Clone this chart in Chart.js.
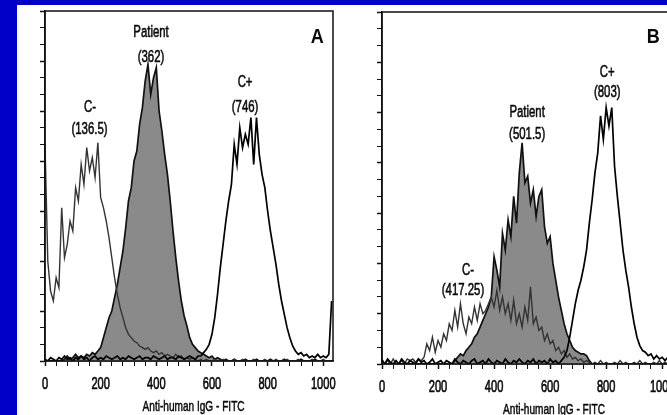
<!DOCTYPE html>
<html lang="en">
<head>
<meta charset="UTF-8">
<title>Anti-human IgG - FITC</title>
<script src="https://cdn.jsdelivr.net/npm/chart.js"></script>
<style>
    html,body{margin:0;padding:0;}
    body{width:667px;height:415px;background:#0000c8;overflow:hidden;position:relative;}
    #panel{position:absolute;left:17px;top:5px;width:650px;height:410px;background:#fff;}
    .box{position:absolute;top:5px;height:410px;}
    #boxA{left:17px;width:330px;}
    #boxB{left:347px;width:335px;}
</style>
</head>
<body>
<div id="panel"></div>
<div class="box" id="boxA"><canvas id="chartA"></canvas></div>
<div class="box" id="boxB"><canvas id="chartB"></canvas></div>
<script>
// channel bins (10 channels each)
const channels = [
    0,10,20,30,40,50,60,70,80,90,
    100,110,120,130,140,150,160,170,180,190,
    200,210,220,230,240,250,260,270,280,290,
    300,310,320,330,340,350,360,370,380,390,
    400,410,420,430,440,450,460,470,480,490,
    500,510,520,530,540,550,560,570,580,590,
    600,610,620,630,640,650,660,670,680,690,
    700,710,720,730,740,750,760,770,780,790,
    800,810,820,830,840,850,860,870,880,890,
    900,910,920,930,940,950,960,970,980,990,
    1000,1010,1020,1030
];
const xTickLabels = [0,200,400,600,800,1000];
const xMinorTicks = [0,40,80,120,160,200,240,280,320,360,400,440,480,520,560,600,640,680,720,760,800,840,880,920,960,1000];
const xTitle = "Anti-human IgG - FITC";

// panel A
const cMinusA = [
    130,60,42,36,50,44,92,62,70,84,
    78,104,96,118,106,128,114,122,110,131,
    98,92,84,74,62,50,40,32,26,20,
    16,14,12,11,9,8,7,8,6,5,
    6,4,5,3,4,3,2,4,2,3,
    1,2,1,2,1,0,1,0,1,0,
    0,1,0,0,1,0,0,0,1,0,
    0,1,0,0,0,1,0,0,0,1,
    0,0,0,1,0,0,0,1,0,0,
    0,1,0,0,0,0,1,0,0,0,
    1,0,0,0
];
const patientA = [
    0,0,0,0,0,0,0,1,3,1,
    2,4,2,3,2,4,3,5,4,6,
    8,14,20,26,30,38,46,56,66,80,
    96,104,120,126,142,152,168,178,160,170,
    176,150,138,124,112,96,78,62,48,36,
    27,21,14,10,8,6,5,4,3,2,
    3,1,2,1,0,1,0,0,1,0,
    0,0,1,0,0,0,1,0,0,0,
    0,1,0,0,0,0,1,0,0,0,
    0,0,1,0,0,0,0,1,0,0,
    0,0,0,0
];
const cPlusA = [
    1,0,2,1,0,2,1,3,1,2,
    0,2,1,3,1,2,0,2,3,1,
    2,1,3,2,1,2,3,1,2,1,
    3,2,1,2,3,1,2,2,1,3,
    2,1,2,3,1,2,2,1,3,2,
    1,2,3,2,1,3,3,5,7,10,
    16,26,40,56,70,84,96,106,130,118,
    140,128,136,130,146,118,146,124,112,104,
    90,78,68,58,46,36,28,20,14,9,
    6,4,5,3,4,2,3,2,4,2,
    3,2,4,36
];

// panel B
const cMinusB = [
    3,0,2,0,3,0,0,2,0,3,
    2,3,1,3,2,4,12,8,16,7,
    14,10,18,14,24,20,32,22,36,24,
    18,28,24,34,26,36,30,32,36,40,
    34,44,32,40,30,36,26,38,24,30,
    22,34,26,46,24,28,20,22,14,18,
    12,14,8,10,6,8,4,6,3,4,
    2,3,1,2,1,0,1,0,2,0,
    1,0,0,1,0,2,0,1,0,0,
    1,0,2,0,1,0,0,1,0,2,
    0,1,0,0
];
const patientB = [
    0,0,0,0,0,0,0,0,0,0,
    0,0,0,0,0,0,0,0,0,0,
    0,0,0,0,0,0,2,4,6,5,
    8,10,12,16,18,22,26,30,34,40,
    64,56,46,78,68,86,76,100,84,114,
    132,108,112,96,104,88,100,104,82,72,
    76,60,50,40,32,24,18,14,10,8,
    7,6,6,5,2,0,0,0,0,0,
    0,0,0,0,0,0,0,0,0,0,
    0,0,0,0,0,0,0,0,0,0,
    0,0,0,0
];
const cPlusB = [
    2,0,3,1,0,2,0,3,1,0,
    2,1,0,3,1,2,0,1,3,0,
    1,2,0,2,1,0,3,1,0,2,
    1,0,2,3,0,1,2,0,3,1,
    0,2,1,0,3,1,0,2,1,3,
    1,0,2,1,3,0,2,1,2,0,
    3,1,2,0,2,4,8,16,26,36,
    44,50,58,68,84,98,114,126,148,134,
    153,142,153,118,100,84,68,56,46,34,
    24,16,11,8,7,5,6,3,5,3,
    4,2,4,3
];

// text labels, anchored in data units (channel, count)
const notesA = [
    {text:"C-", ch:162, val:152},
    {text:"(136.5)", ch:160, val:139},
    {text:"Patient", ch:381, val:197},
    {text:"(362)", ch:381, val:182},
    {text:"C+", ch:719, val:167},
    {text:"(746)", ch:719, val:152},
    {text:"A", ch:978, val:194, bold:true}
];
const notesB = [
    {text:"Patient", ch:518, val:150},
    {text:"(501.5)", ch:518, val:137},
    {text:"C+", ch:804, val:174},
    {text:"(803)", ch:804, val:162},
    {text:"C-", ch:307, val:56},
    {text:"(417.25)", ch:289, val:44},
    {text:"B", ch:968, val:195, bold:true}
];

const FONT = '"Liberation Sans", Arial, sans-serif';

// arial-narrow look: draw squeezed text, slightly heavier
function narrowText(ctx, text, x, y, font, sx, heavy){
    ctx.save();
    ctx.translate(x, y);
    ctx.scale(sx, 1);
    ctx.font = font;
    ctx.fillText(text, 0, 0);
    if (heavy) {
        ctx.lineWidth = heavy;
        ctx.strokeText(text, 0, 0);
    }
    ctx.restore();
}

function overlay(notes, titleCh){
    return {
        id: "overlay",
        afterDatasetsDraw(chart){
            const {ctx, chartArea:a, scales:{x, y}} = chart;
            ctx.save();
            ctx.strokeStyle = "#111";
            ctx.lineWidth = 1.5;
            ctx.strokeRect(a.left, a.top, a.right - a.left, a.bottom - a.top);
            ctx.fillStyle = "#0a0a0a";
            ctx.strokeStyle = "#0a0a0a";
            ctx.textAlign = "center";
            ctx.textBaseline = "middle";
            notes.forEach(n => {
                if (n.bold) narrowText(ctx, n.text, x.getPixelForValue(n.ch), y.getPixelForValue(n.val), "bold 20px " + FONT, 0.9, 0);
                else narrowText(ctx, n.text, x.getPixelForValue(n.ch), y.getPixelForValue(n.val), "17px " + FONT, 0.67, 0.6);
            });
            xTickLabels.forEach(v => {
                narrowText(ctx, String(v), x.getPixelForValue(v), a.bottom + 23, "17px " + FONT, 0.65, 0.7);
            });
            narrowText(ctx, xTitle, x.getPixelForValue(titleCh), a.bottom + 46, "14px " + FONT, 0.72, 0.5);
            ctx.restore();
        }
    };
}

function pts(arr){
    return arr.map((v, i) => ({x: channels[i], y: v}));
}

function histogram(id, cMinus, patient, cPlus, notes, titleCh, yWidth, xHeight, pad){
    new Chart(document.getElementById(id), {
        type: "line",
        data: {
            datasets: [
                {label:"C+", data:pts(cPlus), borderColor:"#000", borderWidth:1.7, fill:false},
                {label:"C-", data:pts(cMinus), borderColor:"#333", borderWidth:1.4, fill:false},
                {label:"Patient", data:pts(patient), borderColor:"#111", borderWidth:1.7,
                 backgroundColor:"#8a8a8a", fill:"origin"}
            ]
        },
        options: {
            responsive: true,
            maintainAspectRatio: false,
            animation: false,
            layout: {padding: pad},
            elements: {point:{radius:0}, line:{tension:0}},
            plugins: {legend:{display:false}, tooltip:{enabled:false}},
            scales: {
                x: {
                    type: "linear", min: 0, max: 1035,
                    grid: {drawOnChartArea:false, tickLength:5, color:"#111",
                           tickWidth: c => c.tick && xTickLabels.includes(c.tick.value) ? 1.5 : 1},
                    border: {display:true, color:"#111", width:1.5},
                    ticks: {display:false},
                    afterBuildTicks: s => { s.ticks = xMinorTicks.map(v => ({value: v})); },
                    afterFit: s => { s.height = xHeight; }
                },
                y: {
                    min: 0, max: 210,
                    grid: {drawOnChartArea:false, tickLength:5, color:"#111",
                           tickWidth: c => c.tick && c.tick.value % 30 === 0 ? 1.5 : 1},
                    border: {display:true, color:"#111", width:1.5},
                    ticks: {stepSize:10, display:false},
                    afterFit: s => { s.width = yWidth; }
                }
            }
        },
        plugins: [overlay(notes, titleCh)]
    });
}

histogram("chartA", cMinusA, patientA, cPlusA, notesA, 534, 28, 54, {top:6, right:14, left:0, bottom:0});
histogram("chartB", cMinusB, patientB, cPlusB, notesB, 614, 35, 51, {top:7, right:10, left:0, bottom:0});
</script>
</body>
</html>
